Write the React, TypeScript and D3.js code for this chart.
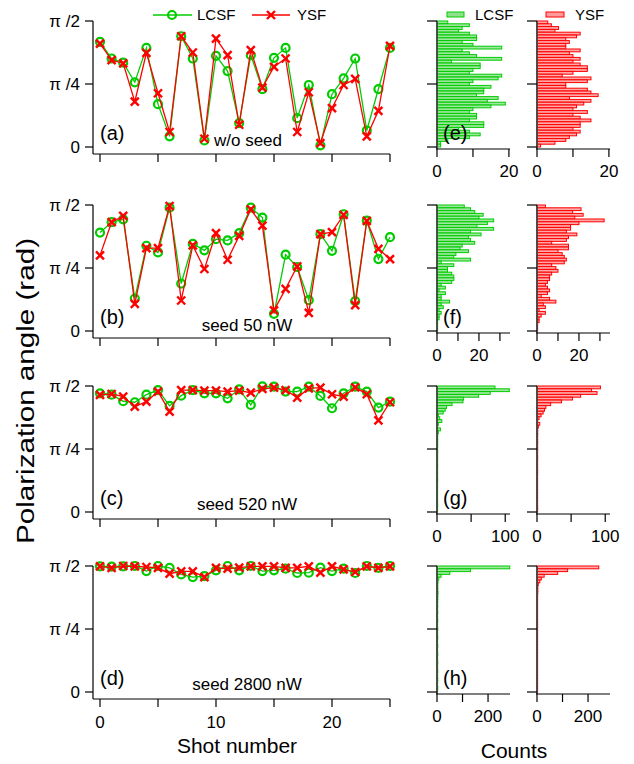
import React from "react";
import * as d3 from "d3";

// ---------- DATA (angles in degrees, 0..90 = 0..π/2) ----------
const SHOTS = [0, 1, 2, 3, 4, 5, 6, 7, 8, 9, 10, 11, 12, 13, 14, 15, 16, 17, 18, 19, 20, 21, 22, 23, 24, 25];

const LCSF_A = [75.1, 63.2, 60.2, 46.2, 70.8, 30.6, 7.6, 79.1, 63.2, 4.7, 65.1, 54.2, 17.1, 65.6, 41.4, 63.7, 70.8, 20.6, 44.3, 1.2, 37.7, 49.0, 63.2, 11.8, 41.4, 70.8];
const YSF_A = [73.9, 62.1, 59.7, 32.4, 67.3, 38.4, 10.7, 79.1, 67.5, 5.9, 77.4, 65.6, 15.9, 69.2, 42.4, 57.3, 63.2, 10.7, 39.1, 2.8, 27.7, 44.3, 48.6, 7.6, 25.8, 72.2];

const LCSF_B = [70.3, 77.7, 79.8, 23.2, 60.9, 56.1, 88.1, 33.9, 62.3, 57.6, 65.6, 64.7, 69.9, 88.1, 81.0, 12.3, 54.5, 45.7, 22.0, 69.2, 57.3, 83.4, 21.3, 78.9, 51.4, 67.0];
const YSF_B = [54.0, 77.7, 82.2, 19.4, 59.2, 59.2, 89.3, 21.8, 61.1, 44.3, 69.9, 50.9, 68.0, 86.9, 75.3, 14.7, 30.1, 46.2, 13.0, 69.2, 70.6, 82.9, 18.5, 78.6, 58.7, 51.4];

const LCSF_C = [84.8, 83.8, 79.1, 78.4, 83.8, 87.1, 75.8, 83.1, 87.1, 84.8, 84.8, 81.2, 87.6, 76.5, 89.7, 89.5, 86.0, 86.0, 89.5, 82.9, 74.1, 84.8, 89.5, 86.0, 74.6, 78.8];
const YSF_C = [83.6, 84.3, 82.4, 75.3, 78.8, 86.0, 71.7, 87.1, 87.1, 86.7, 86.7, 86.0, 86.7, 85.2, 87.9, 88.8, 87.1, 81.7, 88.3, 88.8, 84.1, 82.4, 89.0, 84.1, 65.4, 78.4];

const LCSF_D = [89.8, 89.6, 89.8, 90.0, 86.4, 90.0, 88.6, 84.0, 82.1, 82.8, 86.9, 90.0, 86.9, 90.0, 86.4, 86.9, 88.1, 85.0, 85.2, 88.8, 86.4, 88.1, 85.0, 90.0, 88.6, 90.0];
const YSF_D = [89.8, 88.6, 90.0, 89.8, 89.3, 88.6, 84.5, 86.2, 86.2, 82.1, 88.6, 88.1, 88.8, 89.8, 89.8, 89.8, 88.6, 88.6, 89.8, 85.2, 89.8, 87.6, 85.7, 89.8, 88.6, 89.8];

// histogram counts, 2-degree bins listed from π/2 (top) down to 0
const HIST_LCSF_E = [3, 9, 7, 6, 9, 11, 11, 7, 10, 18, 7, 9, 11, 18, 4, 12, 12, 10, 9, 18, 17, 10, 9, 15, 13, 13, 11, 17, 14, 19, 15, 10, 9, 11, 11, 9, 13, 13, 6, 9, 12, 9, 3, 1, 1];
const HIST_YSF_E = [3, 4, 6, 5, 12, 11, 8, 9, 8, 8, 12, 9, 10, 12, 10, 12, 14, 14, 10, 7, 15, 14, 8, 8, 14, 15, 17, 9, 15, 13, 11, 10, 14, 10, 12, 15, 12, 12, 10, 12, 11, 9, 8, 5, 1];
const HIST_LCSF_F = [13, 16, 18, 22, 20, 27, 24, 19, 27, 16, 21, 15, 16, 18, 12, 11, 15, 9, 8, 16, 2, 8, 5, 5, 7, 8, 8, 7, 2, 4, 1, 4, 2, 2, 6, 2, 3, 1, 2, 1, 1, 0, 0, 0, 0];
const HIST_YSF_F = [4, 21, 17, 22, 18, 32, 20, 16, 16, 14, 19, 15, 14, 7, 15, 15, 10, 12, 13, 14, 13, 7, 9, 10, 7, 6, 6, 5, 4, 5, 6, 5, 2, 6, 9, 3, 4, 1, 4, 2, 1, 1, 0, 0, 0];
const HIST_LCSF_G = [85, 106, 78, 61, 39, 38, 22, 14, 12, 9, 2, 4, 7, 2, 1, 5, 2, 1, 1, 1, 1, 1, 0, 1, 0, 1, 0, 0, 1, 0, 0, 0, 0, 1, 0, 0, 0, 0, 0, 0, 0, 0, 1, 0, 0];
const HIST_YSF_G = [93, 80, 88, 64, 52, 36, 20, 13, 11, 9, 6, 3, 1, 4, 2, 1, 1, 1, 0, 1, 1, 0, 1, 0, 0, 1, 0, 0, 0, 0, 1, 0, 0, 0, 0, 0, 0, 0, 0, 0, 0, 0, 0, 1, 0];
const HIST_LCSF_H = [285, 131, 50, 16, 7, 4, 3, 3, 3, 4, 3, 3, 3, 2, 3, 2, 3, 2, 2, 3, 2, 2, 3, 2, 2, 3, 2, 2, 3, 2, 2, 3, 2, 2, 3, 2, 2, 3, 2, 2, 3, 2, 2, 3, 2];
const HIST_YSF_H = [242, 120, 81, 28, 17, 11, 5, 3, 3, 3, 2, 2, 2, 2, 1, 1, 2, 1, 1, 1, 1, 1, 1, 1, 1, 1, 1, 1, 1, 1, 1, 1, 1, 1, 1, 1, 1, 1, 1, 1, 1, 1, 1, 1, 1];

const PANEL_LABELS = ["(a)", "(b)", "(c)", "(d)"];
const SEED_LABELS = ["w/o seed", "seed 50 nW", "seed 520 nW", "seed 2800 nW"];
const HIST_LABELS = ["(e)", "(f)", "(g)", "(h)"];
const HIST_MAX = [20.3, 34.8, 107, 286];
const HIST_TICKS = [[0, 10, 20], [0, 10, 20, 30], [0, 50, 100], [0, 100, 200]];
const HIST_TICK_LABELS = [[0, 20], [0, 20], [0, 100], [0, 200]];
const Y_TICKS = [0, 45, 90];
const Y_TICK_LABELS = ["0", "π /4", "π /2"];
const X_TICK_LABELS = [0, 10, 20];
const SERIES_NAMES = ["LCSF", "YSF"];
const BIN_WIDTH_DEG = 2;

// ---------- LAYOUT ----------
const W = 634;
const H = 764;
const FONT = "'Liberation Sans', Arial, Helvetica, sans-serif";
const GREEN = "#00cc00";
const RED = "#ff0000";
const GREEN_FILL = "#8ee28e";
const RED_FILL = "#ff9a9a";
const TOPS = [21, 205, 386, 566];
const PH = 126;
const AX_X = 93;
const HIST_X0 = [437, 537];
const HIST_X1 = [510, 610];

const lcsfSets = [LCSF_A, LCSF_B, LCSF_C, LCSF_D];
const ysfSets = [YSF_A, YSF_B, YSF_C, YSF_D];
const histL = [HIST_LCSF_E, HIST_LCSF_F, HIST_LCSF_G, HIST_LCSF_H];
const histY = [HIST_YSF_E, HIST_YSF_F, HIST_YSF_G, HIST_YSF_H];

const xScale = d3.scaleLinear().domain([0, 25]).range([100, 390]);

function XMark({ x, y, s = 4 }: { x: number; y: number; s?: number }) {
  return (
    <g stroke={RED} strokeWidth={2.4} strokeLinecap="butt">
      <line x1={x - s} y1={y - s} x2={x + s} y2={y + s} />
      <line x1={x - s} y1={y + s} x2={x + s} y2={y - s} />
    </g>
  );
}

function LinePanel({ idx }: { idx: number }) {
  const top = TOPS[idx];
  const y = d3.scaleLinear().domain([0, 90]).range([top + PH, top]);
  const axisY = top + PH + 7;
  const line = d3
    .line<number>()
    .x((_, i) => xScale(SHOTS[i]))
    .y((d) => y(d));
  const L = lcsfSets[idx];
  const Y = ysfSets[idx];
  return (
    <g>
      <line x1={AX_X} y1={top} x2={AX_X} y2={axisY} stroke="#000" strokeWidth={1.2} />
      <line x1={AX_X} y1={axisY} x2={xScale(25)} y2={axisY} stroke="#000" strokeWidth={1.2} />
      {Y_TICKS.map((t, i) => (
        <g key={t}>
          <line x1={AX_X - 8} x2={AX_X} y1={y(t)} y2={y(t)} stroke="#000" strokeWidth={1.2} />
          <text x={80} y={y(t)} dy="0.35em" textAnchor="end" fontSize={17} fontFamily={FONT}>
            {Y_TICK_LABELS[i]}
          </text>
        </g>
      ))}
      {xScale.ticks(5).map((t) => (
        <line key={t} x1={xScale(t)} x2={xScale(t)} y1={axisY} y2={axisY + 8} stroke="#000" strokeWidth={1.2} />
      ))}
      {idx === 3 &&
        X_TICK_LABELS.map((t) => (
          <text key={t} x={xScale(t)} y={722} dy="0.35em" textAnchor="middle" fontSize={17} fontFamily={FONT}>
            {t}
          </text>
        ))}
      <path d={line(L) || ""} fill="none" stroke={GREEN} strokeWidth={1.3} />
      {L.map((d, i) => (
        <circle key={i} cx={xScale(SHOTS[i])} cy={y(d)} r={4} fill="none" stroke={GREEN} strokeWidth={2.2} />
      ))}
      <path d={line(Y) || ""} fill="none" stroke={RED} strokeWidth={1.3} />
      {Y.map((d, i) => (
        <XMark key={i} x={xScale(SHOTS[i])} y={y(d)} />
      ))}
      <text x={100} y={top + 112} dy="0.35em" fontSize={20} fontFamily={FONT}>
        {PANEL_LABELS[idx]}
      </text>
      <text
        x={idx === 0 ? 248 : 247}
        y={top + [119, 120, 118, 118][idx]}
        dy="0.35em"
        textAnchor="middle"
        fontSize={17}
        fontFamily={FONT}
      >
        {SEED_LABELS[idx]}
      </text>
    </g>
  );
}

function Histogram({ idx, col }: { idx: number; col: number }) {
  const top = TOPS[idx];
  const y = d3.scaleLinear().domain([0, 90]).range([top + PH, top]);
  const x0 = HIST_X0[col];
  const x = d3.scaleLinear().domain([0, HIST_MAX[idx]]).range([x0, HIST_X1[col]]);
  const counts = col === 0 ? histL[idx] : histY[idx];
  const color = col === 0 ? GREEN : RED;
  const fill = col === 0 ? GREEN_FILL : RED_FILL;
  const axisY = top + PH + 2;
  return (
    <g>
      {counts.map((c, i) => {
        const hi = 90 - BIN_WIDTH_DEG * i;
        const lo = 90 - BIN_WIDTH_DEG * (i + 1);
        const y0 = y(hi);
        const y1 = y(lo);
        return (
          <rect
            key={i}
            x={x(0)}
            y={y0}
            width={Math.max(0.6, x(c) - x(0))}
            height={y1 - y0}
            fill={fill}
            fillOpacity={0.85}
            stroke={color}
            strokeWidth={1}
          />
        );
      })}
      <line x1={x0} y1={top} x2={x0} y2={axisY} stroke="#444" strokeWidth={1.8} />
      {Y_TICKS.map((t) => (
        <line key={t} x1={x0 - 10} x2={x0} y1={y(t)} y2={y(t)} stroke="#000" strokeWidth={1.2} />
      ))}
      <line x1={x0 - 1} y1={axisY} x2={HIST_X1[col]} y2={axisY} stroke="#000" strokeWidth={1.2} />
      {HIST_TICKS[idx].map((t) => (
        <line key={t} x1={x(t)} x2={x(t)} y1={axisY} y2={axisY + 8} stroke="#000" strokeWidth={1.2} />
      ))}
      {HIST_TICK_LABELS[idx].map((t) => (
        <text key={t} x={x(t)} y={axisY + 22} dy="0.35em" textAnchor="middle" fontSize={17} fontFamily={FONT}>
          {t}
        </text>
      ))}
      {col === 0 && (
        <text x={443} y={top + 112} dy="0.35em" fontSize={20} fontFamily={FONT}>
          {HIST_LABELS[idx]}
        </text>
      )}
    </g>
  );
}

export default function App() {
  return (
    <svg
      width={W}
      height={H}
      viewBox={`0 0 ${W} ${H}`}
      style={{ position: "absolute", left: 0, top: 0, background: "#fff" }}
    >
      <rect x={0} y={0} width={W} height={H} fill="#fff" />
      {[0, 1, 2, 3].map((i) => (
        <LinePanel key={i} idx={i} />
      ))}
      {[0, 1, 2, 3].map((i) => (
        <g key={i}>
          <Histogram idx={i} col={0} />
          <Histogram idx={i} col={1} />
        </g>
      ))}
      <line x1={153} x2={192} y1={15} y2={15} stroke={GREEN} strokeWidth={1.3} />
      <circle cx={172} cy={15} r={4} fill="none" stroke={GREEN} strokeWidth={2.2} />
      <text x={197} y={15} dy="0.35em" fontSize={15} fontFamily={FONT}>
        {SERIES_NAMES[0]}
      </text>
      <line x1={252} x2={290} y1={15} y2={15} stroke={RED} strokeWidth={1.3} />
      <XMark x={271} y={15} />
      <text x={297} y={15} dy="0.35em" fontSize={15} fontFamily={FONT}>
        {SERIES_NAMES[1]}
      </text>
      <rect x={447} y={12} width={17} height={5} fill={GREEN_FILL} stroke={GREEN} strokeWidth={1} />
      <text x={475} y={15} dy="0.35em" fontSize={15} fontFamily={FONT}>
        {SERIES_NAMES[0]}
      </text>
      <rect x={546} y={12} width={18} height={5} fill={RED_FILL} stroke={RED} strokeWidth={1} />
      <text x={575} y={15} dy="0.35em" fontSize={15} fontFamily={FONT}>
        {SERIES_NAMES[1]}
      </text>
      <text x={237} y={746} dy="0.35em" textAnchor="middle" fontSize={21} fontFamily={FONT}>
        Shot number
      </text>
      <text x={514} y={751} dy="0.35em" textAnchor="middle" fontSize={21} fontFamily={FONT}>
        Counts
      </text>
      <text
        transform={`translate(26, 391) rotate(-90)`}
        dy="0.35em"
        textAnchor="middle"
        fontSize={23}
        textLength={306}
        lengthAdjust="spacingAndGlyphs"
        fontFamily={FONT}
      >
        Polarization angle (rad)
      </text>
    </svg>
  );
}
